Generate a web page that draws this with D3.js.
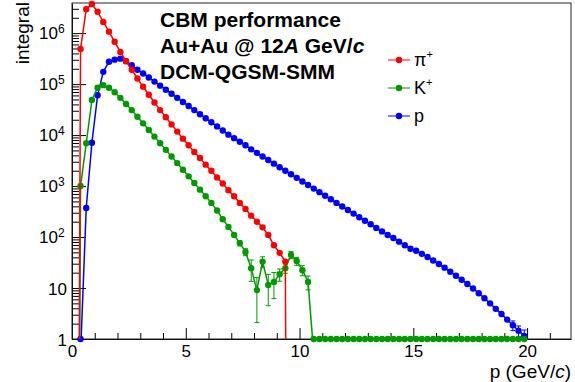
<!DOCTYPE html>
<html>
<head>
<meta charset="utf-8">
<script src="https://cdn.jsdelivr.net/npm/d3@7"></script>
<style>
    body { margin: 0; background: #fff; }
    svg { display: block; font-family: "Liberation Sans", Arial, sans-serif; }
</style>
</head>
<body>
<script>
// Whole script wrapped in one anonymous function so nothing leaks into global scope
(function(){

    // Histogram binning in p (GeV/c), bin 0 is 0-0.25
    var binWidth = 0.25;

    // Integral per bin. 0 = empty bin, values below 1 sit on the axis
    var pionCounts = [0, 490000, 2950000, 3720000, 2630000, 1660000, 1070000, 676000, 427000,
        282000, 191000, 129000, 89100, 61700, 43600, 30900, 22400, 16200, 11700, 8510,
        6310, 4680, 3550, 2630, 2000, 1480, 1120, 832, 631, 468, 355, 263, 200, 155, 110,
        69, 49, 33, 0];
    var kaonCounts = [0, 1000, 6900, 49000, 85100, 95500, 85100, 69200, 53700, 40700,
        30900, 22900, 17000, 12600, 9330, 6920, 5130, 3800, 2820, 2090,
        1550, 1150, 851, 631, 468, 331, 224, 158, 110, 76,
        51, 24.5, 9.1, 33, 11.5, 13.2, 18.6, 24.5, 44.7, 33.9, 22.4, 13.2,
        0.5, 0.5, 0.5, 0.5, 0.5, 0.5, 0.5, 0.5, 0.5, 0.5, 0.5, 0.5, 0.5, 0.5, 0.5, 0.5,
        0.5, 0.5, 0.5, 0.5, 0.5, 0.5, 0.5, 0.5, 0.5, 0.5, 0.5, 0.5, 0.5, 0.5, 0.5, 0.5,
        0.5, 0.5, 0.5, 0.5, 0.5, 0.5];
    var protonCounts = [0, 0.5, 372, 7080, 60300, 174000, 275000, 302000, 316000, 282000,
        234000, 191000, 162000, 135000, 112000, 93300, 77600, 64600, 53700, 44700,
        37200, 30900, 25700, 21400, 17800, 14800, 12300, 10200, 8710, 7410,
        6310, 5250, 4470, 3800, 3240, 2750, 2340, 2000, 1700, 1450,
        1230, 1050, 891, 759, 646, 550, 468, 398, 339, 288,
        245, 209, 178, 151, 129, 110, 95.5, 81.3, 69.2, 58.9,
        53.7, 46.8, 40.7, 34.7, 29.5, 25.1, 20.9, 17.4, 14.5, 12.0,
        9.8, 7.9, 6.3, 5.0, 3.9, 3.09, 2.40, 1.86, 1.45, 1.15];

    // Error bars big enough to be seen (bin index + error)
    var kaonErrBins = [29, 30, 31, 32, 33, 34, 35, 36, 37, 38, 39, 40, 41];
    var kaonErrVals = [9, 8, 11, 7, 8, 7, 7, 5, 5, 7, 6, 5, 4];
    var protonErrBins = [77, 78, 79];
    var protonErrVals = [0.4, 0.35, 0.35];

    var legendLabels = ["π", "K", "p"];
    var legendSups = ["+", "+", ""];
    var seriesColors = ["#ff0000", "#009a00", "#0000ff"];

    var xMajorTicks = [0, 5, 10, 15, 20];
    var xMinorTicks = [1, 2, 3, 4, 6, 7, 8, 9, 11, 12, 13, 14, 16, 17, 18, 19, 21];
    var yMajorTicks = [1, 10, 100, 1e3, 1e4, 1e5, 1e6];
    var yTickBase = ["1", "10", "10", "10", "10", "10", "10"];
    var yTickExp = ["", "", "2", "3", "4", "5", "6"];

    var width = 575,
        height = 382;
    var frame = {left: 72, right: 571, top: 3, bottom: 339};

    var svg = d3.select("body")
        .append("svg")
        .attr("width", width)
        .attr("height", height);

    // Scales: linear p, log integral
    var x = d3.scaleLinear().domain([0, 21.93]).range([frame.left, frame.right]);
    var y = d3.scaleLog().domain([1, 3.9e6]).range([frame.bottom, frame.top]);

    svg.append("clipPath").attr("id", "plotclip")
        .append("rect")
        .attr("x", frame.left).attr("y", frame.top)
        .attr("width", frame.right - frame.left)
        .attr("height", frame.bottom - frame.top);

    // minor ticks (drawn first, majors on top)
    var yMinorTicks = [];
    yMajorTicks.forEach(function(t) {
        for (var m = 2; m <= 9; m++) {
            if (t * m < 3.9e6) yMinorTicks.push(t * m);
        }
    });

    svg.append("g")
        .attr("transform", "translate(0," + frame.bottom + ")")
        .call(d3.axisBottom(x).tickValues(xMinorTicks).tickSize(-6).tickSizeOuter(0).tickFormat(""))
        .call(function(g) { g.select(".domain").remove(); });

    svg.append("g")
        .attr("transform", "translate(" + frame.left + ",0)")
        .call(d3.axisLeft(y).tickValues(yMinorTicks).tickSize(-7).tickSizeOuter(0).tickFormat(""))
        .call(function(g) { g.select(".domain").remove(); });

    var xAxis = svg.append("g")
        .attr("transform", "translate(0," + frame.bottom + ")")
        .call(d3.axisBottom(x).tickValues(xMajorTicks).tickSize(-11).tickSizeOuter(0).tickPadding(6));
    xAxis.selectAll("text")
        .attr("font-size", 17)
        .attr("font-family", "Liberation Sans, Arial, sans-serif")
        .attr("fill", "#000");

    var yAxis = svg.append("g")
        .attr("transform", "translate(" + frame.left + ",0)")
        .call(d3.axisLeft(y).tickValues(yMajorTicks).tickSize(-14).tickSizeOuter(0).tickFormat(""));

    // y labels with superscript exponents
    yAxis.selectAll(".tick").each(function(d, i) {
        var t = d3.select(this).append("text")
            .attr("x", -5)
            .attr("y", yTickExp[i] ? 5 : 6)
            .attr("fill", "#000")
            .attr("text-anchor", "end")
            .attr("font-size", 17);
        if (yTickExp[i]) {
            t.attr("x", -14).text(yTickBase[i]);
            d3.select(this).append("text")
                .attr("x", -14)
                .attr("y", -1)
                .attr("fill", "#000")
                .attr("text-anchor", "start")
                .attr("font-size", 12)
                .text(yTickExp[i]);
        } else {
            t.text(yTickBase[i]);
        }
    });

    // frame around the pad
    svg.append("rect")
        .attr("x", frame.left).attr("y", frame.top)
        .attr("width", frame.right - frame.left)
        .attr("height", frame.bottom - frame.top)
        .attr("fill", "none")
        .attr("stroke", "#222")
        .attr("stroke-width", 1);

    // axis titles
    svg.append("text")
        .attr("x", frame.right).attr("y", 378)
        .attr("text-anchor", "end")
        .attr("font-size", 19)
        .html('p (GeV/<tspan font-style="italic">c</tspan>)');

    svg.append("text")
        .attr("transform", "translate(29,2) rotate(-90)")
        .attr("text-anchor", "end")
        .attr("font-size", 19)
        .text("integral");

    // build point lists from the counts
    function toPoints(counts) {
        return counts.map(function(v, i) {
            return {p: (i + 0.5) * binWidth, v: v};
        });
    }

    var series = [
        {pts: toPoints(protonCounts), color: seriesColors[2], errBins: protonErrBins, errVals: protonErrVals},
        {pts: toPoints(kaonCounts), color: seriesColors[1], errBins: kaonErrBins, errVals: kaonErrVals},
        {pts: toPoints(pionCounts), color: seriesColors[0], errBins: [], errVals: []}
    ];

    // empty bins dive far below the frame, the clip cuts them off
    var line = d3.line()
        .x(function(d) { return x(d.p); })
        .y(function(d) { return y(d.v > 0 ? d.v : 1e-20); });

    var plot = svg.append("g");

    series.forEach(function(s) {
        var g = plot.append("g");

        g.append("path")
            .datum(s.pts)
            .attr("clip-path", "url(#plotclip)")
            .attr("fill", "none")
            .attr("stroke", s.color)
            .attr("stroke-width", 1.5)
            .attr("d", line);

        // error bars with little caps
        s.errBins.forEach(function(b, k) {
            var d = s.pts[b], e = s.errVals[k];
            var x0 = x(d.p);
            var yLo = y(Math.max(d.v - e, 1)), yHi = y(d.v + e);
            var eb = g.append("g").attr("stroke", s.color).attr("stroke-width", 1);
            eb.append("line").attr("x1", x0).attr("x2", x0).attr("y1", yLo).attr("y2", yHi);
            eb.append("line").attr("x1", x0 - 2.5).attr("x2", x0 + 2.5).attr("y1", yHi).attr("y2", yHi);
            if (d.v - e > 1) {
                eb.append("line").attr("x1", x0 - 2.5).attr("x2", x0 + 2.5).attr("y1", yLo).attr("y2", yLo);
            }
        });

        g.selectAll(".marker")
            .data(s.pts.filter(function(d) { return d.v > 0; }))
            .enter()
            .append("circle")
            .attr("class", "marker")
            .attr("cx", function(d) { return x(d.p); })
            .attr("cy", function(d) { return y(Math.max(d.v, 1)); })
            .attr("r", 3.2)
            .attr("fill", s.color);
    });

    // header text
    var header = svg.append("g")
        .attr("font-size", 21)
        .attr("font-weight", "bold");
    header.append("text").attr("x", 160).attr("y", 27).text("CBM performance");
    header.append("text").attr("x", 160).attr("y", 53)
        .html('Au+Au @ 12<tspan font-style="italic">A</tspan> GeV/<tspan font-style="italic">c</tspan>');
    header.append("text").attr("x", 160).attr("y", 79).text("DCM-QGSM-SMM");

    // legend
    var legend = svg.append("g");
    legendLabels.forEach(function(lab, i) {
        var ly = 60 + i * 28;
        legend.append("line")
            .attr("x1", 388).attr("x2", 410)
            .attr("y1", ly).attr("y2", ly)
            .attr("stroke", seriesColors[i])
            .attr("stroke-width", 1);
        legend.append("circle")
            .attr("cx", 399).attr("cy", ly).attr("r", 3.2)
            .attr("fill", seriesColors[i]);
        var t = legend.append("text")
            .attr("x", 414).attr("y", ly + 6)
            .attr("font-size", 18)
            .text(lab);
        if (legendSups[i]) {
            t.append("tspan").attr("font-size", 11).attr("dy", -8).text(legendSups[i]);
        }
    });

})();
</script>
</body>
</html>
